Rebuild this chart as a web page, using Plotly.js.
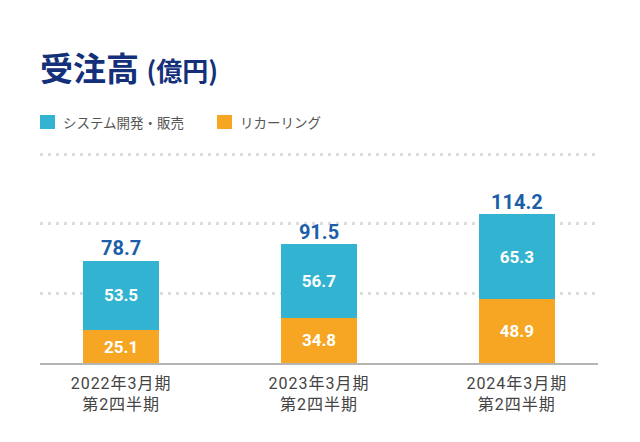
<!DOCTYPE html>
<html><head><meta charset="utf-8">
<script src="https://cdn.plot.ly/plotly-3.0.1.min.js"></script>
<style>html,body{margin:0;padding:0;background:#fff}#c{width:640px;height:442px}
.xtick text{letter-spacing:1px}</style>
</head><body><div id="c"></div>
<script>
const categories = ['2022年3月期<br>第2四半期', '2023年3月期<br>第2四半期', '2024年3月期<br>第2四半期'];
const recurring = [25.1, 34.8, 48.9];
const systemDev = [53.5, 56.7, 65.3];
const totals = [78.7, 91.5, 114.2];
const seriesNames = ['システム開発・販売', 'リカーリング'];
const seriesColors = ['#31b3d1', '#f6a623'];
const gridVals = [0, 160/3, 320/3, 160];

const FONT = "Roboto, 'Noto Sans CJK JP', sans-serif";
const JP = "'Noto Sans CJK JP', sans-serif";
const fmt = v => v.toFixed(1);

const traces = [
  {type:'bar', name: seriesNames[1], x: categories, y: recurring, marker:{color:seriesColors[1]},
   text: recurring.map(fmt), textposition:'inside', insidetextanchor:'middle',
   textfont:{color:'#fff', size:17, family:FONT, weight:'bold'}, width:0.385, hoverinfo:'skip', showlegend:false},
  {type:'bar', name: seriesNames[0], x: categories, y: systemDev, marker:{color:seriesColors[0]},
   text: systemDev.map(fmt), textposition:'inside', insidetextanchor:'middle',
   textfont:{color:'#fff', size:17, family:FONT, weight:'bold'}, width:0.385, hoverinfo:'skip', showlegend:false},
  {type:'scatter', mode:'text', x: categories, y: totals, text: totals.map(fmt), textposition:'top center',
   textfont:{color:'#1c5fa8', size:20, family:FONT, weight:'bold'}, showlegend:false, hoverinfo:'skip', cliponaxis:false}
];

// legend drawn as shapes + annotations (pixel positions converted to paper coords)
const L = 40, R = 42, T = 151, B = 79, W = 640, H = 442;
const pw = W - L - R, ph = H - T - B;
const px = x => (x - L) / pw;
const py = y => (H - B - y) / ph;
const legendX = [40, 217];
const shapes = [], annotations = [];
seriesNames.forEach((n, i) => {
  shapes.push({type:'rect', xref:'paper', yref:'paper', x0:px(legendX[i]), x1:px(legendX[i]+15), y0:py(129), y1:py(115),
               fillcolor:seriesColors[i], line:{width:0}});
  annotations.push({xref:'paper', yref:'paper', x:px(legendX[i]+21), y:py(122), xanchor:'left', yanchor:'middle',
                    text:n, showarrow:false, font:{size:13.5, color:'#555', family:JP}});
});

const layout = {
  width:W, height:H,
  margin:{l:L, r:R, t:T, b:B},
  paper_bgcolor:'#fff', plot_bgcolor:'#fff',
  barmode:'stack',
  font:{family:FONT, color:'#444'},
  title:{text:'<b>受注高 </b><b><span style="font-size:26px">(億円)</span></b>', x:40/640, xref:'container', xanchor:'left',
         y:1-69/442, yref:'container', yanchor:'middle', font:{size:33, color:'#14307a', family:JP}},
  showlegend:false,
  shapes, annotations,
  xaxis:{type:'category', range:[-0.41, 2.41], showline:true, linecolor:'#b5b5b5', linewidth:2, showgrid:false,
         ticks:'outside', ticklen:5, tickcolor:'rgba(0,0,0,0)', tickfont:{size:16, color:'#444', family:FONT}, fixedrange:true},
  yaxis:{range:[0,162.6], tickvals:gridVals, showticklabels:false, showgrid:true, gridcolor:'#dcdcdc', gridwidth:3,
         griddash:'3px,5px', zeroline:false, fixedrange:true},
  bargap:0
};
Plotly.newPlot('c', traces, layout, {staticPlot:true, displayModeBar:false});
</script></body></html>
